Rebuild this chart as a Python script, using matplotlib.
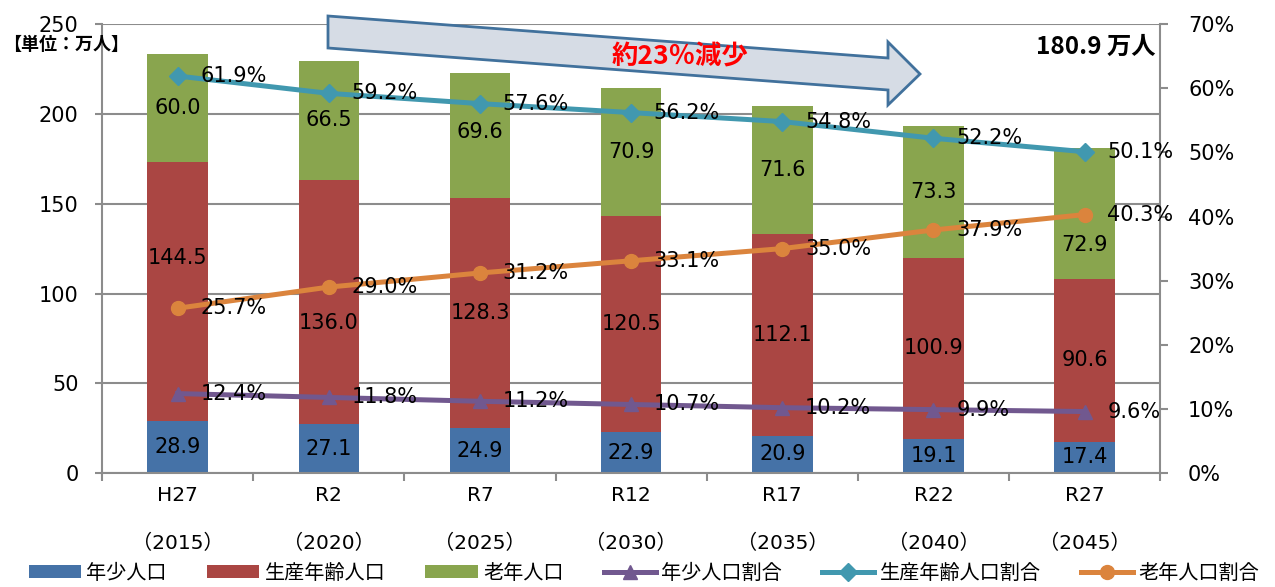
import numpy as np
import matplotlib
matplotlib.use("Agg")
from matplotlib import pyplot as plt
from matplotlib.patches import Polygon
from matplotlib.ticker import MultipleLocator, FuncFormatter

plt.rcParams['font.family'] = ['DejaVu Sans', 'Noto Sans CJK JP']

# data
years = ["H27\n（2015）", "R2\n（2020）", "R7\n（2025）", "R12\n（2030）",
         "R17\n（2035）", "R22\n（2040）", "R27\n（2045）"]
young = [28.9, 27.1, 24.9, 22.9, 20.9, 19.1, 17.4]
working = [144.5, 136.0, 128.3, 120.5, 112.1, 100.9, 90.6]
old = [60.0, 66.5, 69.6, 70.9, 71.6, 73.3, 72.9]
young_pct = [12.4, 11.8, 11.2, 10.7, 10.2, 9.9, 9.6]
working_pct = [61.9, 59.2, 57.6, 56.2, 54.8, 52.2, 50.1]
old_pct = [25.7, 29.0, 31.2, 33.1, 35.0, 37.9, 40.3]

# a few labels were nudged by hand in the original
nudge = {("w", 0): 18.5, ("w", 1): -11.5, ("o", 6): -17.5, ("o", 2): 2.0}

c_young = "#4572A7"
c_work = "#AA4643"
c_old = "#89A54E"
c_lyoung = "#71588F"
c_lwork = "#4198AF"
c_lold = "#DB843D"
gray = "#8c8c8c"

fig = plt.figure(figsize=(12.75, 5.87), dpi=100)
ax = fig.add_axes([0.080, 0.194, 0.830, 0.765])
ax2 = ax.twinx()

x = np.arange(len(years))
w = 0.4
young = np.array(young)
working = np.array(working)
old = np.array(old)
b1 = ax.bar(x, young, w, color=c_young, label="年少人口", zorder=2)
b2 = ax.bar(x, working, w, bottom=young, color=c_work, label="生産年齢人口", zorder=2)
b3 = ax.bar(x, old, w, bottom=young + working, color=c_old, label="老年人口", zorder=2)

fs = 15
for i in x:
    ax.text(i, young[i] / 2 + nudge.get(("y", i), 0), f"{young[i]:.1f}",
            ha="center", va="center", fontsize=fs, zorder=3)
    ax.text(i, young[i] + working[i] / 2 + nudge.get(("w", i), 0), f"{working[i]:.1f}",
            ha="center", va="center", fontsize=fs, zorder=3)
    ax.text(i, young[i] + working[i] + old[i] / 2 + nudge.get(("o", i), 0), f"{old[i]:.1f}",
            ha="center", va="center", fontsize=fs, zorder=3)

ax.set_xlim(-0.5, len(years) - 0.5)
ax.set_ylim(0, 250)
ax.yaxis.set_major_locator(MultipleLocator(50))
ax.grid(axis="y", color=gray, linewidth=1.5, zorder=0)
ax.set_axisbelow(True)
ax.set_xticks(x)
ax.set_xticklabels(years, fontsize=14.5, linespacing=2.9)
ax.set_xticks(np.arange(-0.5, len(years)), minor=True)
ax.tick_params(axis="x", which="major", length=0, pad=9)
ax.tick_params(axis="x", which="minor", length=6, color=gray, width=1.5)
ax.tick_params(axis="y", labelsize=fs, length=5, color=gray, width=1.5, pad=12)
for s in ["top", "right"]:
    ax.spines[s].set_visible(False)
for s in ["left", "bottom"]:
    ax.spines[s].set_color(gray)
    ax.spines[s].set_linewidth(1.5)

l1, = ax2.plot(x, young_pct, color=c_lyoung, lw=3.6, marker="^", ms=10, label="年少人口割合")
l2, = ax2.plot(x, working_pct, color=c_lwork, lw=3.6, marker="D", ms=9, label="生産年齢人口割合")
l3, = ax2.plot(x, old_pct, color=c_lold, lw=3.6, marker="o", ms=10, label="老年人口割合")
for series in [young_pct, working_pct, old_pct]:
    for i, v in enumerate(series):
        ax2.text(i + 0.15, v, f"{v:.1f}%", ha="left", va="center", fontsize=fs)

ax2.set_ylim(0, 70)
ax2.yaxis.set_major_locator(MultipleLocator(10))
ax2.yaxis.set_major_formatter(FuncFormatter(lambda v, p: f"{v:.0f}%"))
ax2.tick_params(axis="y", labelsize=fs, length=6, color=gray, width=1.5, pad=14)
for s in ["top", "left", "bottom"]:
    ax2.spines[s].set_visible(False)
ax2.spines["right"].set_color(gray)
ax2.spines["right"].set_linewidth(1.5)

# arrow in figure pixel coords
H = 587
pts = [(328, 16), (888, 58), (888, 42), (920, 74), (888, 105), (888, 90), (328, 48)]
arrow = Polygon([(px / 1275, 1 - py / H) for px, py in pts], closed=True,
                transform=fig.transFigure, facecolor="#D6DCE5", edgecolor="#41719C",
                linewidth=2, zorder=10)
fig.add_artist(arrow)
fig.text(680 / 1275, 1 - 57 / H, "約23％減少", color="red", fontsize=19, fontweight="bold",
         ha="center", va="center", family=["Noto Sans CJK JP"], zorder=11)
fig.text(1155 / 1275, 1 - 47 / H, "180.9 万人", fontsize=17.5, fontweight="bold",
         ha="right", va="center", family=["Noto Sans CJK JP"])
fig.text(3 / 1275, 1 - 44 / H, "【単位：万人】", fontsize=13, fontweight="bold",
         ha="left", va="center", family=["Noto Sans CJK JP"])

fig.legend(handles=[b1, b2, b3, l1, l2, l3], loc="lower center", ncol=6,
           bbox_to_anchor=(0.505, -0.025), frameon=False,
           handlelength=2.6, handleheight=0.6, columnspacing=2.0, handletextpad=0.25,
           prop={"family": ["Noto Sans CJK JP"], "size": 14.5})

fig.savefig("out.png", dpi=100)
